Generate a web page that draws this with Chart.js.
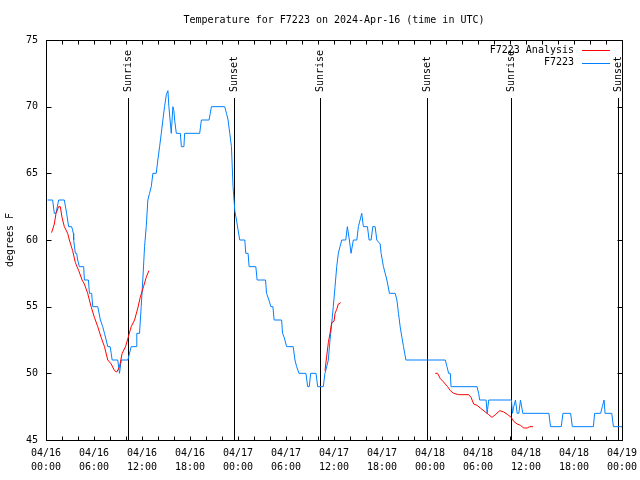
<!DOCTYPE html>
<html><head><meta charset="utf-8">
<script src="https://cdn.jsdelivr.net/npm/chart.js@4.4.1/dist/chart.umd.min.js"></script>
<style>html,body{margin:0;padding:0;background:#fff}</style>
</head><body>
<canvas id="c" width="640" height="480"></canvas>
<script>
const chartTitle = "Temperature for F7223 on 2024-Apr-16 (time in UTC)";
const yAxisTitle = "degrees F";
const xTickLabels = [["04/16","00:00"],["04/16","06:00"],["04/16","12:00"],["04/16","18:00"],["04/17","00:00"],["04/17","06:00"],["04/17","12:00"],["04/17","18:00"],["04/18","00:00"],["04/18","06:00"],["04/18","12:00"],["04/18","18:00"],["04/19","00:00"]];
const yTickValues = [45,50,55,60,65,70,75];

// hours since 04/16 00:00 UTC
const stationHours = [0.2,0.83,1.04,1.25,1.58,2.29,2.58,2.83,3.21,3.42,3.46,3.67,3.83,3.96,4.17,4.71,4.8,5.3,5.43,5.71,5.84,6.47,6.8,7.09,7.31,7.52,7.72,8.02,8.15,8.27,8.97,9.19,9.4,10.23,10.65,11.28,11.35,11.69,11.9,12.1,12.32,12.53,12.73,12.94,13.16,13.36,13.78,13.98,14.2,14.41,14.61,14.82,15.04,15.24,15.36,15.51,15.66,15.86,15.99,16.08,16.29,16.79,16.92,17.24,17.33,19.21,19.42,20.38,20.53,20.68,22.34,22.56,22.76,22.97,23.18,23.38,23.6,23.81,24.01,24.22,24.85,24.97,25.26,25.39,26.23,26.39,27.44,27.57,27.86,28.11,28.36,28.52,29.45,29.57,29.77,30.08,30.9,31.12,31.33,31.62,32.49,32.71,32.91,33.08,33.75,33.96,34.66,34.87,35.09,35.29,35.5,35.71,35.91,36.13,36.34,36.54,36.75,36.97,37.47,37.67,37.92,38.13,38.42,38.85,39.05,39.26,39.47,39.67,40.18,40.39,40.64,40.85,41.14,41.35,41.77,41.89,42.18,42.61,42.93,43.65,43.86,44.06,44.27,44.49,44.69,44.99,49.91,50.12,50.33,50.54,50.63,53.88,54.08,54.21,55.01,55.14,55.34,58.18,58.31,58.47,58.68,58.9,59.1,59.31,59.6,62.86,63.07,64.41,64.62,65.58,65.79,68.42,68.58,69.33,69.54,69.76,69.88,70.72,70.93,72.0];
const stationTemps = [63,63,62,62,63,63,62,61,61,60.5,60,59,59,58.5,58,58,57,57,56,56,55,55,54,53.5,53,52.5,52,52,51.5,51,51,50,51,51,52,52,53,53,55,57,59.5,61,63,63.5,64,65,65,66,67,68,69,70,70.9,71.2,70,69,68,70,69.7,69,68,68,67,67,68,68,69,69,69.5,70,70,69.5,69,68,67,64,62.2,61.5,60.75,60,60,59,59,58,58,57,57,56,55.5,55,55,54,54,53,52.7,52,52,51,50.5,50,50,49,49,50,50,49,49,50,50.5,51,52.5,53.7,55,56.5,58,59,59.5,60,60,61,60,59,60,60,61,61.5,62,61,61,60,60,61,61,60,59.7,59,58,57,56,56,55.5,54.5,53.5,52.7,52,51,51,50.5,50,50,49,49,48.5,48,48,47,48,48,47,47.5,48,47,47,48,47,47,46,46,47,47,46,46,47,47,47.5,48,47,47,46,46];

const analysisHours = [0.7,1.04,1.25,1.58,1.79,2.0,2.29,2.71,2.92,3.33,3.67,4.09,4.51,4.8,5.21,5.64,6.05,6.47,6.89,7.31,7.72,8.15,8.56,8.85,9.19,9.52,9.94,10.23,10.65,11.07,11.48,11.78,12.19,12.53,12.86,
  null,
  34.87,35.09,35.29,35.5,35.71,36.0,36.13,36.34,36.54,36.84,
  null,
  48.66,48.95,49.29,49.62,49.91,50.2,50.54,50.95,51.58,52.83,53.13,53.46,53.88,54.29,54.92,55.34,55.76,56.17,56.72,57.22,57.72,58.15,58.47,58.9,59.31,59.72,60.15,60.47,60.88];
const analysisTemps = [60.55,61.2,62,62.5,62.5,61.7,61,60.5,60,59.2,58.3,57.7,57,56.7,56,55,54.2,53.5,52.7,52,51,50.7,50.2,50.1,50.5,51.5,52,52.6,53.5,54,54.9,55.7,56.5,57.2,57.7,
  null,
  50.2,51.3,52.3,53,53.8,53.9,54.5,54.8,55.2,55.3,
  null,
  50,50,49.6,49.4,49.2,49,48.7,48.5,48.4,48.4,48.2,47.7,47.6,47.4,47.1,46.9,46.7,46.9,47.2,47.1,46.9,46.7,46.4,46.2,46.1,45.9,45.9,46,46];

const eventHours = [10.25,23.47,34.25,47.66,58.14,71.46];
const eventLabels = ["Sunrise","Sunset","Sunrise","Sunset","Sunrise","Sunset"];

const MONO = "'DejaVu Sans Mono', 'Liberation Mono', monospace";

function pts(hs, ts){ return hs.map((h,i)=> h===null ? {x:null,y:null} : {x:h,y:ts[i]}); }

const gp = {
  id:'gp',
  beforeDatasetsDraw(chart){
    const {ctx, chartArea:a, scales:{x}} = chart;
    ctx.save();
    ctx.strokeStyle='#000'; ctx.lineWidth=1; ctx.fillStyle='#000';
    ctx.font = "10px " + MONO;
    eventHours.forEach((h,i)=>{
      const px = Math.round(x.getPixelForValue(h))+0.5;
      ctx.beginPath(); ctx.moveTo(px, a.bottom); ctx.lineTo(px, a.top+58); ctx.stroke();
      ctx.save(); ctx.translate(px, a.top+52); ctx.rotate(-Math.PI/2);
      ctx.textAlign='left'; ctx.textBaseline='middle';
      ctx.fillText(eventLabels[i],0,0); ctx.restore();
    });
    ctx.restore();
  },
  afterDraw(chart){
    const {ctx, chartArea:a, scales:{x,y}} = chart;
    ctx.save();
    ctx.strokeStyle='#000'; ctx.lineWidth=1;
    const L=Math.round(a.left)+0.5, R=Math.round(a.right)+0.5, T=Math.round(a.top)+0.5, B=Math.round(a.bottom)+0.5;
    ctx.beginPath();
    yTickValues.forEach(v=>{
      const py=Math.round(y.getPixelForValue(v))+0.5;
      ctx.moveTo(L,py); ctx.lineTo(L+5,py);
      ctx.moveTo(R,py); ctx.lineTo(R-5,py);
    });
    for(let h=0; h<=72; h+=2){
      const px=Math.round(x.getPixelForValue(h))+0.5;
      ctx.moveTo(px,B); ctx.lineTo(px,B-4);
      ctx.moveTo(px,T); ctx.lineTo(px,T+4);
    }
    ctx.stroke();
    ctx.strokeRect(L,T,R-L,B-T);
    ctx.fillStyle='#000';
    ctx.font = "10px " + MONO;
    ctx.textAlign='center'; ctx.textBaseline='middle';
    ctx.fillText(chartTitle,(a.left+a.right)/2,20);
    ctx.save(); ctx.translate(10,(a.top+a.bottom)/2); ctx.rotate(-Math.PI/2);
    ctx.fillText(yAxisTitle,0,0); ctx.restore();
    // legend
    ctx.textAlign='right';
    chart.data.datasets.forEach((ds,i)=>{
      const ly = a.top + 10 + i*12.5;
      ctx.fillStyle='#000';
      ctx.fillText(ds.label, a.right-48, ly);
      ctx.strokeStyle=ds.borderColor; ctx.beginPath();
      ctx.moveTo(a.right-40, Math.round(ly)+0.5); ctx.lineTo(a.right-12, Math.round(ly)+0.5); ctx.stroke();
    });
    ctx.restore();
  }
};

new Chart(document.getElementById('c'), {
  type:'line',
  data:{datasets:[
    {label:'F7223 Analysis', data:pts(analysisHours,analysisTemps), borderColor:'#ff0000', borderWidth:1, pointRadius:0, tension:0, spanGaps:false},
    {label:'F7223', data:pts(stationHours,stationTemps), borderColor:'rgb(0,128,255)', borderWidth:1, pointRadius:0, tension:0, spanGaps:false}
  ]},
  options:{
    responsive:false, animation:false, events:[],
    layout:{padding:{top:40,right:18,left:0,bottom:0}},
    plugins:{legend:{display:false}, title:{display:false}, tooltip:{enabled:false}},
    scales:{
      x:{type:'linear', min:0, max:72,
        grid:{display:false, drawTicks:false}, border:{display:false},
        ticks:{stepSize:2, autoSkip:false, maxRotation:0, minRotation:0, color:'#000', padding:6,
          font:{family:MONO, size:10, lineHeight:1.4},
          callback:(v)=> (v%6===0 ? xTickLabels[v/6] : '')},
        afterFit:(s)=>{s.height=40; s.paddingRight=0; s.paddingLeft=0;}
      },
      y:{min:45, max:75,
        grid:{display:false, drawTicks:false}, border:{display:false},
        ticks:{stepSize:5, color:'#000', padding:8, font:{family:MONO, size:10}},
        afterFit:(s)=>{s.width=46; s.paddingTop=0; s.paddingBottom=0;}
      }
    }
  },
  plugins:[gp]
});
</script>
</body></html>
